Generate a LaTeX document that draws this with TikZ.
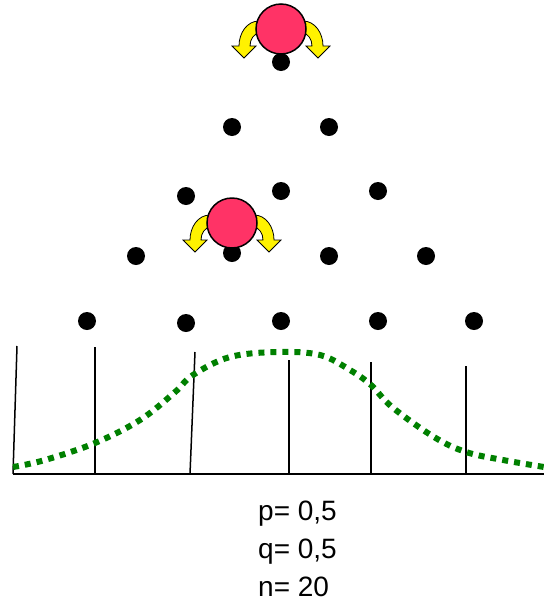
\documentclass[tikz,border=0pt]{standalone}
\usepackage{fontspec}
\setmainfont{Liberation Sans}
\begin{document}
\begin{tikzpicture}[x=1pt,y=-1pt,
  dot/.style={circle,fill=black,inner sep=0pt,minimum size=18pt},
  ball/.style={circle,draw=black,line width=1.5pt,fill=ballred,inner sep=0pt,minimum size=50pt},
  yarrow/.style={draw=black,line width=0.8pt,fill=yellow},
  vline/.style={line width=1.5pt},
  gauss/.style={draw=gcol,line width=6pt,dash pattern=on 6pt off 6pt},
  lbl/.style={anchor=base west,inner sep=0pt,font=\fontsize{28}{32}\selectfont},
  turn/.pic={
    \path[yarrow] (-22,-8) .. controls (-34,-8) and (-42,4) .. (-42,17) -- (-49,17) -- (-37,29) -- (-25,17) -- (-31,17) .. controls (-31,10) and (-27,5) .. (-22,4) -- cycle;
  }]
\definecolor{ballred}{HTML}{FF3366}
\definecolor{gcol}{HTML}{008000}
\useasboundingbox (0,0) rectangle (544,611);
% dots
\node[dot] (d00) at (281,62) {};
\node[dot] (d10) at (232,127) {};
\node[dot] (d11) at (329,127) {};
\node[dot] (d20) at (186,196) {};
\node[dot] (d21) at (281,191) {};
\node[dot] (d22) at (378,191) {};
\node[dot] (d30) at (136,256) {};
\node[dot] (d31) at (232,253) {};
\node[dot] (d32) at (329,256) {};
\node[dot] (d33) at (426,256) {};
\node[dot] (d40) at (87,321) {};
\node[dot] (d41) at (186,323) {};
\node[dot] (d42) at (281,321) {};
\node[dot] (d43) at (378,321) {};
\node[dot] (d44) at (474,321) {};
% arrows and balls
\pic at (281,29) {turn};
\pic[xscale=-1] at (281,29) {turn};
\node[ball] (b1) at (281,29) {};
\pic at (232,223) {turn};
\pic[xscale=-1] at (232,223) {turn};
\node[ball] (b2) at (232,223) {};
% vertical lines
\draw[vline] (17,346) -- (13,474);
\draw[vline] (95,347) -- (95,474);
\draw[vline] (195,352) -- (190,474);
\draw[vline] (289,360) -- (289,474);
\draw[vline] (371,362) -- (371,474);
\draw[vline] (466,366) -- (466,474);
\draw[line width=2pt] (13,474) -- (544,474);
% gaussian
\draw[gauss] plot[smooth,tension=0.6] coordinates {(13,467) (45,460) (95,443) (140,420) (174,393) (193,375) (230,357) (278,352) (320,355) (350,370) (371,385) (392,407) (434,437) (466,452) (503,460) (544,467)};
% labels
\node[lbl] (p) at (258,520) {p= 0,5};
\node[lbl] (q) at (258,558) {q= 0,5};
\node[lbl] (n) at (258,596) {n= 20};
\end{tikzpicture}
\end{document}
